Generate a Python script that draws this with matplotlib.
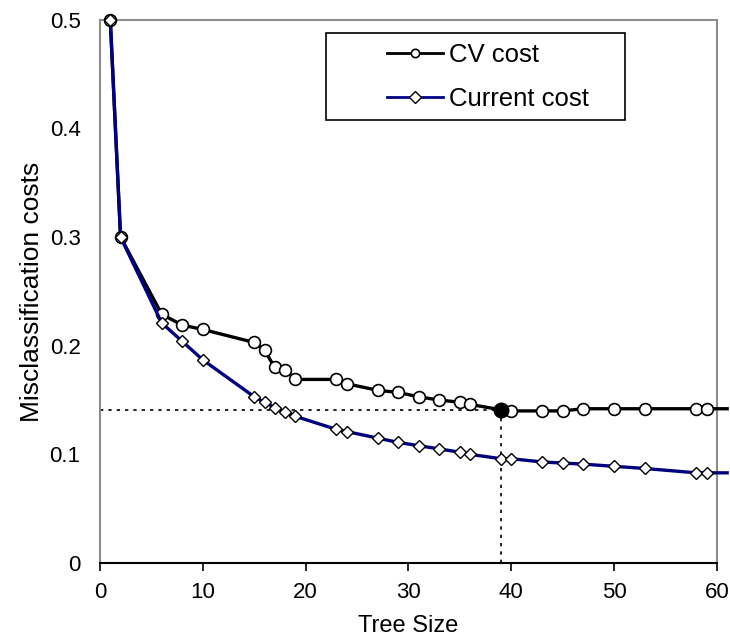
import numpy as np
import matplotlib.pyplot as plt
from matplotlib.patches import Rectangle

plt.rcParams['font.family'] = ['Liberation Sans', 'DejaVu Sans']

# dane
rozmiar_cv = [1, 2, 6, 8, 10, 15, 16, 17, 18, 19, 23, 24, 27, 29, 31, 33, 35, 36,
              39, 40, 43, 45, 47, 50, 53, 58, 59, 61]
koszt_cv = [0.5, 0.3, 0.229, 0.219, 0.215, 0.203, 0.196, 0.180, 0.178, 0.169,
            0.169, 0.165, 0.159, 0.157, 0.153, 0.150, 0.148, 0.146,
            0.141, 0.140, 0.140, 0.140, 0.142, 0.142, 0.142, 0.142, 0.142, 0.142]

rozmiar_cur = [1, 2, 6, 8, 10, 15, 16, 17, 18, 19, 23, 24, 27, 29, 31, 33, 35, 36,
               39, 40, 43, 45, 47, 50, 53, 58, 59, 61]
koszt_cur = [0.5, 0.3, 0.221, 0.204, 0.187, 0.153, 0.148, 0.143, 0.139, 0.135,
             0.123, 0.121, 0.115, 0.111, 0.108, 0.105, 0.102, 0.100,
             0.096, 0.096, 0.093, 0.092, 0.091, 0.089, 0.087, 0.083, 0.083, 0.083]

najlepszy_x = 39
najlepszy_y = 0.141

x_ticki = [0, 10, 20, 30, 40, 50, 60]
y_ticki = [0, 0.1, 0.2, 0.3, 0.4, 0.5]
y_etykiety = ['0', '0.1', '0.2', '0.3', '0.4', '0.5']

fig = plt.figure(figsize=(7.3, 6.41), dpi=100)
ax = fig.add_axes([0.137, 0.1217, 0.845, 0.8473])

ax.plot(rozmiar_cv, koszt_cv, color='black', lw=2.4, marker='o', ms=8.5,
        mfc='white', mec='black', mew=1.2, markevery=slice(0, -1),
        clip_on=False, label='CV cost', zorder=3)
ax.plot(rozmiar_cur, koszt_cur, color='#000080', lw=2.4, marker='D', ms=6,
        mfc='white', mec='black', mew=1.0, markevery=slice(0, -1),
        clip_on=False, label='Current cost', zorder=4)

# linie przerywane do optimum
ax.plot([0, najlepszy_x], [najlepszy_y, najlepszy_y], color='black', lw=1.2,
        ls=(0, (2, 3)), zorder=2)
ax.plot([najlepszy_x, najlepszy_x], [0, najlepszy_y], color='black', lw=1.2,
        ls=(0, (2, 3)), zorder=2)
ax.plot([najlepszy_x], [najlepszy_y], marker='o', ms=10.5, color='black', zorder=5)

ax.set_xlim(0, 60)
ax.set_ylim(0, 0.5)
ax.set_xticks(x_ticki)
ax.set_yticks(y_ticki)
ax.set_yticklabels(y_etykiety)
ax.tick_params(axis='x', direction='out', length=6, width=1.2, labelsize=16, pad=8)
ax.tick_params(axis='y', length=0, labelsize=16, pad=14)

for s in ['left', 'top', 'right']:
    ax.spines[s].set_color('#8c8c8c')
    ax.spines[s].set_linewidth(1.5)
ax.spines['bottom'].set_color('black')
ax.spines['bottom'].set_linewidth(1.5)

ax.set_xlabel('Tree Size', fontsize=17, labelpad=8)
ax.set_ylabel('Misclassification costs', fontsize=19, labelpad=4)

# ramka legendy jak w Excelu (szersza niz tekst)
ramka = Rectangle((0.366, 0.816), 0.485, 0.160, transform=ax.transAxes,
                  facecolor='white', edgecolor='black', lw=1.2, zorder=6)
ax.add_patch(ramka)

leg = ax.legend(loc='upper left', bbox_to_anchor=(0.466, 0.958), fontsize=18.5,
                frameon=False, handlelength=2.15, handletextpad=0.25,
                borderpad=0, labelspacing=0.78, borderaxespad=0)
leg.set_zorder(7)
for h in leg.legend_handles:
    h.set_markersize(6)
    h.set_linewidth(2)

fig.savefig('out.png', dpi=100)
